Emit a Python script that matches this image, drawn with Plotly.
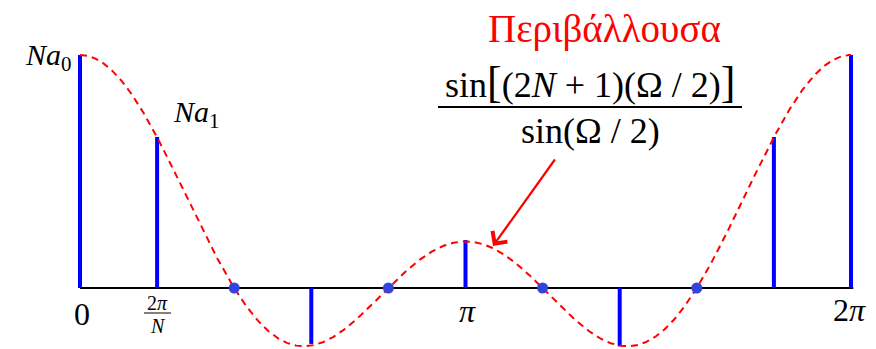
import numpy as np
import plotly.graph_objects as go

# Samples of N·a_k on one period, Ω_k = 2πk/N
N = 10
k_index = list(range(11))
na_values = [5.0, 3.24, 0.0, -1.2, 0.0, 1.03, 0.0, -1.25, 0.0, 3.24, 5.0]
# Envelope sin[(2M+1)Ω/2] / sin(Ω/2), with 2M+1 = 5
envelope_order = 5

# Tick labels along the Ω axis
tick_text_zero = "0"
tick_text_pi = "<i>π</i>"
tick_text_2pi = "2<i>π</i>"

W, H = 876, 349
X0_PX, X1_PX = 80, 851      # pixel positions of Ω = 0 and Ω = 2π
Y0_PX, UNIT_PX = 288, 46.6  # baseline pixel row and pixels per unit

omega_k = [2 * np.pi * k / N for k in k_index]

# Envelope curve
om = np.linspace(0, 2 * np.pi, 1201)
den = np.sin(om / 2)
safe = np.abs(den) > 1e-9
env = np.where(safe, np.sin(envelope_order * om / 2) / np.where(safe, den, 1.0),
               float(envelope_order))

px_per_rad = (X1_PX - X0_PX) / (2 * np.pi)
x_range = [-X0_PX / px_per_rad, (W - X0_PX) / px_per_rad]
y_range = [-(H - Y0_PX) / UNIT_PX, Y0_PX / UNIT_PX]

# Stems as vertical segments
stem_x, stem_y = [], []
for x, v in zip(omega_k, na_values):
    if v != 0:
        stem_x += [x, x, None]
        stem_y += [0, v, None]

zero_x = [x for x, v in zip(omega_k, na_values) if v == 0]
zero_y = [0 for v in na_values if v == 0]

fig = go.Figure()
# Baseline (Ω axis)
fig.add_trace(go.Scatter(x=[0, 2 * np.pi * 1.003], y=[0, 0], mode="lines",
                         line=dict(color="black", width=2), hoverinfo="skip"))
fig.add_trace(go.Scatter(x=stem_x, y=stem_y, mode="lines",
                         line=dict(color="#0000ff", width=4), hoverinfo="skip"))
fig.add_trace(go.Scatter(x=om, y=env, mode="lines",
                         line=dict(color="#ff0000", width=2, dash="7px,5px"),
                         hoverinfo="skip"))
fig.add_trace(go.Scatter(x=zero_x, y=zero_y, mode="markers",
                         marker=dict(color="#3344dd", size=11, line=dict(width=0)),
                         hoverinfo="skip"))

SERIF = "Liberation Serif"


def px(x):
    return x / W


def py(y):
    return 1 - y / H


def label(text, x, y, size, color="black", xanchor="center", yanchor="middle"):
    fig.add_annotation(text=text, x=px(x), y=py(y), xref="paper", yref="paper",
                       showarrow=False, xanchor=xanchor, yanchor=yanchor,
                       font=dict(family=SERIF, size=size, color=color))


label("<i>Na</i><sub>0</sub>", 48, 57, 30)
label("<i>Na</i><sub>1</sub>", 196, 114, 30)

label(tick_text_zero, 82, 314, 32)
label("2<i>π</i>", 157, 303, 20)
label("<i>N</i>", 158, 326, 20)
label(tick_text_pi, 467, 311, 32)
label(tick_text_2pi, 849, 310, 32)

label("Περιβάλλουσα", 604, 29, 39, color="#ff0000")
label('sin<span style="font-size:44px">[</span>(2<i>N</i> + 1)(Ω / 2)'
      '<span style="font-size:44px">]</span>', 590, 83, 36)
label("sin(Ω / 2)", 590, 131, 36)

shapes = [
    dict(type="line", xref="paper", yref="paper", x0=px(438), x1=px(742),
         y0=py(107), y1=py(107), line=dict(color="black", width=2)),
    dict(type="line", xref="paper", yref="paper", x0=px(144), x1=px(171),
         y0=py(313), y1=py(313), line=dict(color="black", width=1)),
]

# Arrow pointing at the envelope
fig.add_annotation(x=px(493), y=py(246), xref="paper", yref="paper",
                   ax=556 - 493, ay=158 - 246, axref="pixel", ayref="pixel",
                   showarrow=True, arrowhead=4, arrowsize=1.6, arrowwidth=2.2,
                   arrowcolor="#ff0000", text="")

fig.update_layout(
    width=W, height=H,
    margin=dict(l=0, r=0, t=0, b=0),
    paper_bgcolor="white", plot_bgcolor="white",
    showlegend=False,
    shapes=shapes,
    xaxis=dict(visible=False, range=x_range, fixedrange=True),
    yaxis=dict(visible=False, range=y_range, fixedrange=True),
)

fig.write_html("out.html")
